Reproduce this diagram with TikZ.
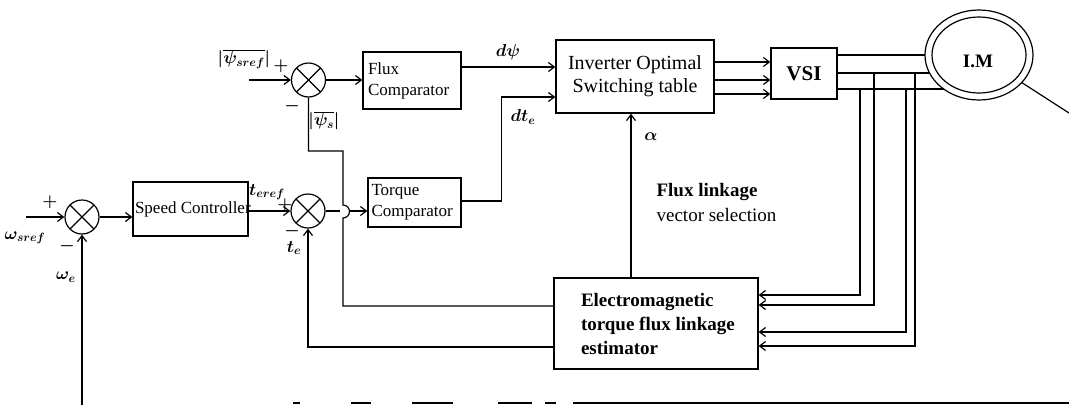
\documentclass[tikz,border=0pt]{standalone}
\usepackage{fontspec}
\setmainfont{Liberation Serif}
\usetikzlibrary{arrows.meta,shapes.geometric}
\newcommand\myfA{\fontsize{17}{21}\selectfont}
\newcommand\myfB{\fontsize{20}{23}\selectfont}
\newcommand\myfC{\fontsize{19}{24}\selectfont}
\hyphenpenalty=10000
\exhyphenpenalty=10000
\begin{document}
\begin{tikzpicture}[x=1pt,y=-1pt,line width=1.2pt,
  >={Straight Barb[length=6pt,width=9pt]},
  box/.style={draw,inner sep=0pt},
  sumj/.style={draw,circle,minimum size=34pt,inner sep=0pt,
    path picture={\draw (path picture bounding box.north west) -- (path picture bounding box.south east)
      (path picture bounding box.south west) -- (path picture bounding box.north east);}},
  lbl/.style={inner sep=0pt,font=\myfA\boldmath}]
\useasboundingbox (0,0) rectangle (1069,405);

% summing junctions
\node[sumj] (fj) at (308.5,80) {};
\node[sumj] (sj) at (82,217) {};
\node[sumj] (tj) at (308,211) {};

% blocks
\node[box,minimum width=98pt,minimum height=57pt,text width=88pt,align=flush left,font=\myfA] (fc) at (412,80.5) {Flux\\Comparator};
\node[box,minimum width=93pt,minimum height=49pt,text width=86pt,align=flush left,font=\myfA] (tc) at (414.5,202.5) {Torque\\Comparator};
\node[box,minimum width=115pt,minimum height=54pt,text width=111pt,align=flush left,font=\myfA] (sc) at (190.5,209) {\mbox{Speed Controller}};
\node[box,minimum width=158pt,minimum height=73pt,align=center,font=\myfB] (inv) at (635,76.5) {Inverter Optimal\\Switching table};
\node[box,minimum width=66pt,minimum height=51pt,font=\fontsize{21}{24}\selectfont\bfseries] (vsi) at (804,73.5) {VSI};
\node[box,minimum width=204pt,minimum height=91pt,text width=150pt,align=flush left,font=\myfC\bfseries] (est) at (656,323.5) {Electromagnetic\\\mbox{torque flux linkage}\\estimator};

% motor
\coordinate (mc) at (979,55);
\coordinate (shaft) at (1069,113);
\foreach \yy in {55,73,89}{
  \draw (vsi.east |- 0,\yy) -- (mc |- 0,\yy);
}
\draw (mc) -- (shaft);
\node[draw,ellipse,fill=white,minimum width=108pt,minimum height=90pt,inner sep=0pt] (motor) at (mc) {};
\node[draw,ellipse,minimum width=94pt,minimum height=76pt,inner sep=0pt] (motorin) at (mc) {};
\node[inner sep=0pt,font=\fontsize{19}{22}\selectfont\bfseries] (imtext) at (978,61) {I.M};

% inverter -> VSI
\foreach \yy in {62,80,94}{
  \draw[->] (inv.east |- 0,\yy) -- (vsi.west |- 0,\yy);
}

% flux path
\coordinate (pref) at (249,80);
\draw[->] (pref) -- (fj.west);
\draw[->] (fj.east) -- (fc.west |- fj.east);
\draw[->] (fc.east |- 0,67) -- (inv.west |- 0,67);

% torque comparator -> inverter
\draw[->] (tc.east |- 0,201) -- ++(40,0) |- (inv.west |- 0,97);

% speed loop
\coordinate (wref) at (26,217);
\coordinate (wb) at (82,405);
\draw[->] (wref) -- (sj.west);
\draw[->] (wb) -- (sj.south);
\draw[->] (sj.east) -- (sj.east -| sc.west);
\draw[->] (sc.east |- tj.west) -- (tj.west);

% torque junction -> torque comparator (with gap for hop)
\coordinate (hopL) at (340,211);
\coordinate (hopR) at (349.5,211);
\draw (tj.east) -- (hopL);
\draw[->] (hopR) -- (tc.west |- hopR);

% flux magnitude feedback with hop
\draw (est.west |- 0,306) -- (343,306) -- (343,218) arc[start angle=90,end angle=-90,radius=6.5] -- (343,151) -| (fj.south);

% torque feedback
\draw[->] (est.west |- 0,347) -| (tj.south);

% alpha
\draw[->] (est.north -| 631,0) -- (inv.south -| 631,0);

% taps from motor lines to estimator
\coordinate (ta) at (860,89);
\coordinate (tb) at (874,73);
\coordinate (tcc) at (906,89);
\coordinate (td) at (915,73);
\draw[->] (ta) |- (est.east |- 0,295);
\draw[->] (tb) |- (est.east |- 0,305);
\draw[->] (tcc) |- (est.east |- 0,332);
\draw[->] (td) |- (est.east |- 0,346);

% labels
\node[lbl] (l1) at (244,59) {$|\overline{\psi_{sref}}|$};
\node[lbl] (l2) at (281,66) {$+$};
\node[lbl] (l3) at (292,106) {$-$};
\node[lbl] (l4) at (324,121) {$|\overline{\psi_{s}}|$};
\node[lbl] (l5) at (508,52) {$d\psi$};
\node[lbl] (l6) at (523,117) {$dt_e$};
\node[lbl] (l7) at (651,137) {$\alpha$};
\node[lbl] (l8) at (50,202) {$+$};
\node[lbl] (l9) at (25,238) {$\omega_{sref}$};
\node[lbl] (l10) at (67,246) {$-$};
\node[lbl] (l11) at (66,277) {$\omega_e$};
\node[lbl] (l12) at (267,192) {$t_{eref}$};
\node[lbl] (l13) at (285,205) {$+$};
\node[lbl] (l14) at (292,231) {$-$};
\node[lbl] (l15) at (294,248) {$t_e$};
\node[inner sep=0pt,anchor=west,font=\myfC\bfseries] (fl1) at (656,192) {Flux linkage};
\node[inner sep=0pt,anchor=west,font=\myfC] (fl2) at (656,215) {vector selection};

% bottom scan line
\foreach \a/\b in {293/300,351/371,412/453,498/532,545/556,573/1069}{
  \draw[line width=1.5pt] (\a,403) -- (\b,403);
}
\end{tikzpicture}
\end{document}
